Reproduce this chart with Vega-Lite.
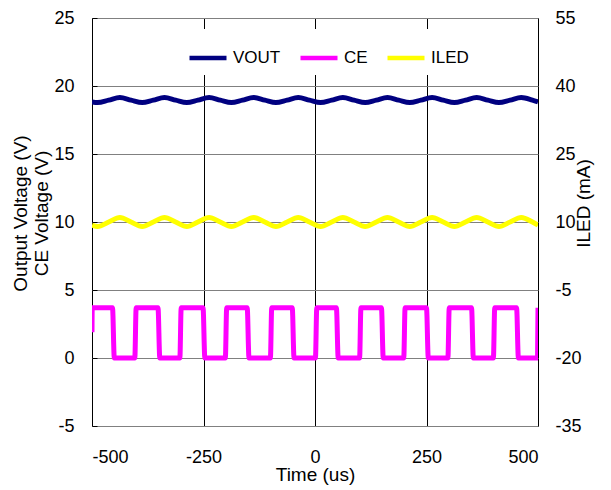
{
  "$schema": "https://vega.github.io/schema/vega-lite/v6.json",
  "autosize": {"type": "none"},
  "width": 446,
  "height": 408,
  "padding": {"left": 92, "top": 18, "right": 73, "bottom": 64},
  "background": "white",
  "config": {
    "font": "Liberation Sans",
    "view": {"stroke": "#000000", "strokeWidth": 1},
    "axis": {"labelFont": "Liberation Sans", "titleFont": "Liberation Sans", "labelColor": "#000", "titleColor": "#000", "titleFontWeight": "normal", "labelFontSize": 18, "titleFontSize": 19, "labelExpr": "'' + datum.value"}
  },
  "data": {"values": [
    {"t": -500, "s": "VOUT", "v": 18.83}, {"t": -487.5, "s": "VOUT", "v": 18.78}, {"t": -462.5, "s": "VOUT", "v": 18.96}, {"t": -437.5, "s": "VOUT", "v": 19.15}, {"t": -412.5, "s": "VOUT", "v": 18.96},
    {"t": -387.5, "s": "VOUT", "v": 18.78}, {"t": -362.5, "s": "VOUT", "v": 18.96}, {"t": -337.5, "s": "VOUT", "v": 19.15}, {"t": -312.5, "s": "VOUT", "v": 18.96},
    {"t": -287.5, "s": "VOUT", "v": 18.78}, {"t": -262.5, "s": "VOUT", "v": 18.96}, {"t": -237.5, "s": "VOUT", "v": 19.15}, {"t": -212.5, "s": "VOUT", "v": 18.96},
    {"t": -187.5, "s": "VOUT", "v": 18.78}, {"t": -162.5, "s": "VOUT", "v": 18.96}, {"t": -137.5, "s": "VOUT", "v": 19.15}, {"t": -112.5, "s": "VOUT", "v": 18.96},
    {"t": -87.5, "s": "VOUT", "v": 18.78}, {"t": -62.5, "s": "VOUT", "v": 18.96}, {"t": -37.5, "s": "VOUT", "v": 19.15}, {"t": -12.5, "s": "VOUT", "v": 18.96},
    {"t": 12.5, "s": "VOUT", "v": 18.78}, {"t": 37.5, "s": "VOUT", "v": 18.96}, {"t": 62.5, "s": "VOUT", "v": 19.15}, {"t": 87.5, "s": "VOUT", "v": 18.96},
    {"t": 112.5, "s": "VOUT", "v": 18.78}, {"t": 137.5, "s": "VOUT", "v": 18.96}, {"t": 162.5, "s": "VOUT", "v": 19.15}, {"t": 187.5, "s": "VOUT", "v": 18.96},
    {"t": 212.5, "s": "VOUT", "v": 18.78}, {"t": 237.5, "s": "VOUT", "v": 18.96}, {"t": 262.5, "s": "VOUT", "v": 19.15}, {"t": 287.5, "s": "VOUT", "v": 18.96},
    {"t": 312.5, "s": "VOUT", "v": 18.78}, {"t": 337.5, "s": "VOUT", "v": 18.96}, {"t": 362.5, "s": "VOUT", "v": 19.15}, {"t": 387.5, "s": "VOUT", "v": 18.96},
    {"t": 412.5, "s": "VOUT", "v": 18.78}, {"t": 437.5, "s": "VOUT", "v": 18.96}, {"t": 462.5, "s": "VOUT", "v": 19.15}, {"t": 487.5, "s": "VOUT", "v": 18.96},
    {"t": 500, "s": "VOUT", "v": 18.83},

    {"t": -500, "s": "CE", "v": 1.9}, {"t": -499.5, "s": "CE", "v": 3.7}, {"t": -454, "s": "CE", "v": 3.7}, {"t": -450, "s": "CE", "v": 0},
    {"t": -404, "s": "CE", "v": 0}, {"t": -401, "s": "CE", "v": 3.7}, {"t": -352, "s": "CE", "v": 3.7}, {"t": -348, "s": "CE", "v": 0},
    {"t": -303, "s": "CE", "v": 0}, {"t": -300, "s": "CE", "v": 3.7}, {"t": -251, "s": "CE", "v": 3.7}, {"t": -247, "s": "CE", "v": 0},
    {"t": -201, "s": "CE", "v": 0}, {"t": -198, "s": "CE", "v": 3.7}, {"t": -152, "s": "CE", "v": 3.7}, {"t": -148, "s": "CE", "v": 0},
    {"t": -100, "s": "CE", "v": 0}, {"t": -97, "s": "CE", "v": 3.7}, {"t": -51, "s": "CE", "v": 3.7}, {"t": -47, "s": "CE", "v": 0},
    {"t": 1, "s": "CE", "v": 0}, {"t": 4, "s": "CE", "v": 3.7}, {"t": 48, "s": "CE", "v": 3.7}, {"t": 52, "s": "CE", "v": 0},
    {"t": 100, "s": "CE", "v": 0}, {"t": 103, "s": "CE", "v": 3.7}, {"t": 149, "s": "CE", "v": 3.7}, {"t": 153, "s": "CE", "v": 0},
    {"t": 199, "s": "CE", "v": 0}, {"t": 202, "s": "CE", "v": 3.7}, {"t": 250, "s": "CE", "v": 3.7}, {"t": 254, "s": "CE", "v": 0},
    {"t": 298, "s": "CE", "v": 0}, {"t": 301, "s": "CE", "v": 3.7}, {"t": 351, "s": "CE", "v": 3.7}, {"t": 355, "s": "CE", "v": 0},
    {"t": 400, "s": "CE", "v": 0}, {"t": 403, "s": "CE", "v": 3.7}, {"t": 452, "s": "CE", "v": 3.7}, {"t": 456, "s": "CE", "v": 0},
    {"t": 499, "s": "CE", "v": 0}, {"t": 500, "s": "CE", "v": 3.7},

    {"t": -500, "s": "ILED", "v": 9.3}, {"t": -487.5, "s": "ILED", "v": 9.0}, {"t": -462.5, "s": "ILED", "v": 10.0}, {"t": -437.5, "s": "ILED", "v": 11.0}, {"t": -412.5, "s": "ILED", "v": 10.0},
    {"t": -387.5, "s": "ILED", "v": 9.0}, {"t": -362.5, "s": "ILED", "v": 10.0}, {"t": -337.5, "s": "ILED", "v": 11.0}, {"t": -312.5, "s": "ILED", "v": 10.0},
    {"t": -287.5, "s": "ILED", "v": 9.0}, {"t": -262.5, "s": "ILED", "v": 10.0}, {"t": -237.5, "s": "ILED", "v": 11.0}, {"t": -212.5, "s": "ILED", "v": 10.0},
    {"t": -187.5, "s": "ILED", "v": 9.0}, {"t": -162.5, "s": "ILED", "v": 10.0}, {"t": -137.5, "s": "ILED", "v": 11.0}, {"t": -112.5, "s": "ILED", "v": 10.0},
    {"t": -87.5, "s": "ILED", "v": 9.0}, {"t": -62.5, "s": "ILED", "v": 10.0}, {"t": -37.5, "s": "ILED", "v": 11.0}, {"t": -12.5, "s": "ILED", "v": 10.0},
    {"t": 12.5, "s": "ILED", "v": 9.0}, {"t": 37.5, "s": "ILED", "v": 10.0}, {"t": 62.5, "s": "ILED", "v": 11.0}, {"t": 87.5, "s": "ILED", "v": 10.0},
    {"t": 112.5, "s": "ILED", "v": 9.0}, {"t": 137.5, "s": "ILED", "v": 10.0}, {"t": 162.5, "s": "ILED", "v": 11.0}, {"t": 187.5, "s": "ILED", "v": 10.0},
    {"t": 212.5, "s": "ILED", "v": 9.0}, {"t": 237.5, "s": "ILED", "v": 10.0}, {"t": 262.5, "s": "ILED", "v": 11.0}, {"t": 287.5, "s": "ILED", "v": 10.0},
    {"t": 312.5, "s": "ILED", "v": 9.0}, {"t": 337.5, "s": "ILED", "v": 10.0}, {"t": 362.5, "s": "ILED", "v": 11.0}, {"t": 387.5, "s": "ILED", "v": 10.0},
    {"t": 412.5, "s": "ILED", "v": 9.0}, {"t": 437.5, "s": "ILED", "v": 10.0}, {"t": 462.5, "s": "ILED", "v": 11.0}, {"t": 487.5, "s": "ILED", "v": 10.0},
    {"t": 500, "s": "ILED", "v": 9.3}
  ]},
  "encoding": {
    "x": {
      "field": "t", "type": "quantitative",
      "scale": {"domain": [-500, 500], "nice": false, "zero": false},
      "axis": {"values": [-500, -250, 0, 250, 500], "title": "Time (us)", "grid": true, "gridColor": "#000000", "gridOpacity": 1, "gridWidth": 1, "ticks": false, "domain": false, "labelPadding": 22, "titlePadding": -1}
    },
    "color": {
      "field": "s", "type": "nominal",
      "scale": {"domain": ["VOUT", "CE", "ILED"], "range": ["#000080", "#FF00FF", "#FFFF00"]},
      "legend": {
        "title": null, "orient": "none", "direction": "horizontal", "legendX": 87, "legendY": 11,
        "fillColor": "white", "padding": 8, "symbolType": "stroke", "symbolSize": 1369, "symbolStrokeWidth": 4.5,
        "labelFont": "Liberation Sans", "labelFontSize": 17, "labelColor": "#000", "labelOffset": 4, "columnPadding": 10
      }
    }
  },
  "layer": [
    {
      "transform": [{"filter": "datum.s !== 'ILED'"}],
      "mark": {"type": "line", "strokeWidth": 5, "interpolate": "monotone", "clip": true},
      "encoding": {
        "detail": {"field": "s"},
        "y": {
          "field": "v", "type": "quantitative",
          "scale": {"domain": [-5, 25], "nice": false, "zero": false},
          "axis": {"values": [-5, 0, 5, 10, 15, 20, 25], "title": ["Output Voltage (V)", "CE Voltage (V)"], "titleY": 195, "grid": true, "gridColor": "#808080", "gridOpacity": 1, "ticks": true, "tickSize": -5, "tickColor": "#000", "domain": false, "labelPadding": 23, "titlePadding": 2}
        }
      }
    },
    {
      "transform": [{"filter": "datum.s === 'ILED'"}],
      "mark": {"type": "line", "strokeWidth": 5, "interpolate": "monotone", "clip": true},
      "encoding": {
        "y": {
          "field": "v", "type": "quantitative",
          "scale": {"domain": [-35, 55], "nice": false, "zero": false},
          "axis": {"orient": "right", "values": [-35, -20, -5, 10, 25, 40, 55], "title": "ILED (mA)", "titleAngle": 270, "titleY": 185, "grid": false, "ticks": false, "domain": false, "labelPadding": 17, "titlePadding": 12}
        }
      }
    }
  ],
  "resolve": {"scale": {"y": "independent"}}
}
